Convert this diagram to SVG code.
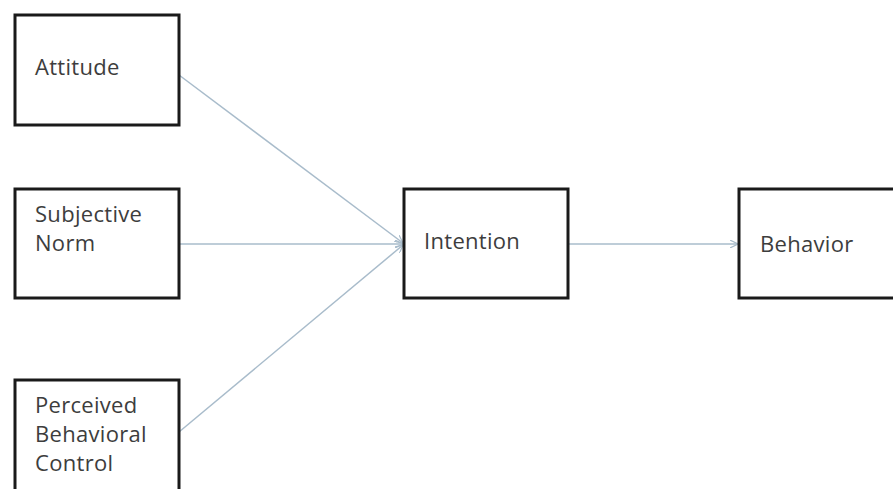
<svg xmlns="http://www.w3.org/2000/svg" width="893" height="489" viewBox="0 0 893 489">
<style>
.box{fill:#fff;stroke:#1a1a1a;stroke-width:3}
.t{font-family:"Open Sans","Liberation Sans",sans-serif;font-size:22px;letter-spacing:0.3px;fill:#3d3d3d}
.c{stroke:#a9bccb;stroke-width:1.5;fill:none;marker-end:url(#ah)}
</style>
<defs>
<marker id="ah" viewBox="0 0 10 10" refX="10" refY="5" markerWidth="8" markerHeight="8" markerUnits="userSpaceOnUse" orient="auto">
<path d="M0,0 L10,5 L0,10" fill="none" stroke="#a9bccb" stroke-width="1.5"/>
</marker>
</defs>
<rect width="893" height="489" fill="#fff"/>
<g id="connectors">
<line class="c" x1="179" y1="75" x2="403" y2="243"/>
<line class="c" x1="179" y1="244" x2="403" y2="244"/>
<line class="c" x1="179" y1="432" x2="403" y2="245"/>
<line class="c" x1="568" y1="244" x2="738" y2="244"/>
</g>
<g id="attitude"><rect class="box" x="15" y="15" width="164" height="110"/><text class="t" x="35" y="75">Attitude</text></g>
<g id="subjective-norm"><rect class="box" x="15" y="189" width="164" height="109"/><text class="t" x="35" y="222">Subjective</text><text class="t" x="35" y="251">Norm</text></g>
<g id="pbc"><rect class="box" x="15" y="380" width="164" height="120"/><text class="t" x="35" y="413">Perceived</text><text class="t" x="35" y="442">Behavioral</text><text class="t" x="35" y="471">Control</text></g>
<g id="intention"><rect class="box" x="404" y="189" width="164" height="109"/><text class="t" x="424" y="249">Intention</text></g>
<g id="behavior"><rect class="box" x="739" y="189" width="170" height="109"/><text class="t" x="760" y="252">Behavior</text></g>
</svg>
